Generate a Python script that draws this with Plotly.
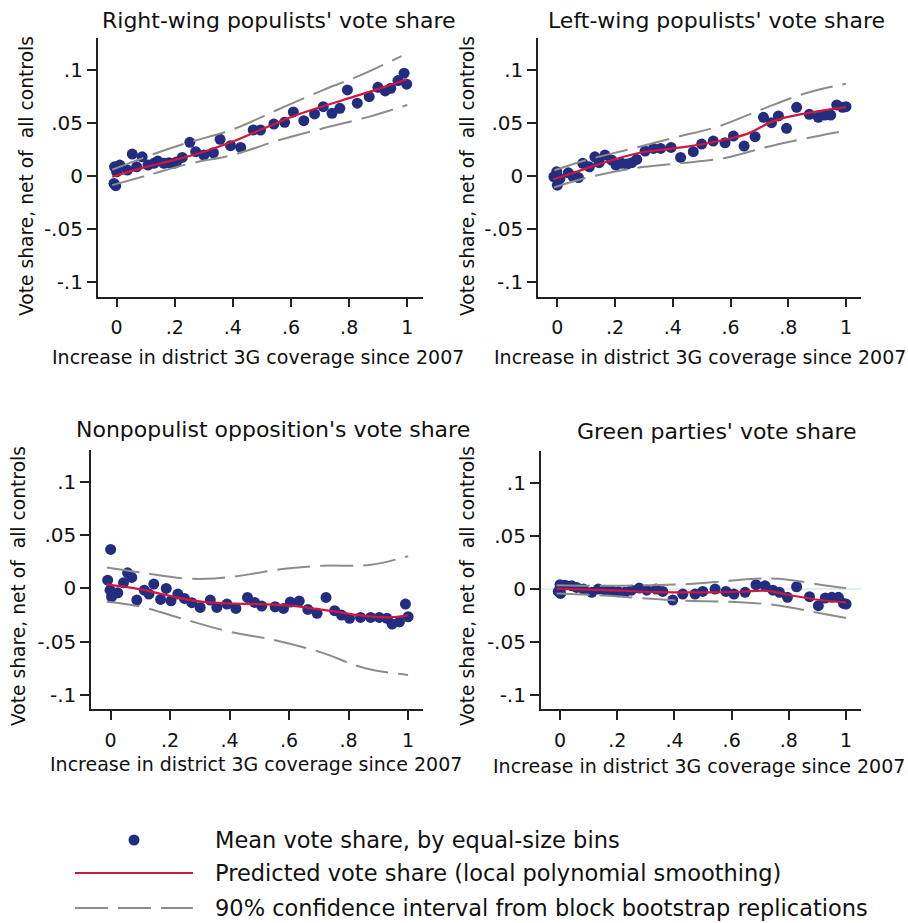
import plotly.graph_objects as go

W, H = 908, 923
FONT = "DejaVu Sans"

# ---------------- data ----------------
# Panel 1: Right-wing populists
rw_bin_x = [-0.009, -0.003, -0.007, 0.011, 0.0, 0.037, 0.054, 0.069, 0.088, 0.108, 0.128, 0.142, 0.163, 0.18,
            0.197, 0.206, 0.226, 0.252, 0.272, 0.30, 0.333, 0.356, 0.392, 0.427, 0.47, 0.495, 0.541, 0.578,
            0.608, 0.644, 0.681, 0.711, 0.741, 0.768, 0.794, 0.828, 0.869, 0.899, 0.924, 0.943, 0.968, 0.989, 0.998]
rw_bin_y = [-0.0069, -0.009, 0.0088, 0.0104, 0.0041, 0.0057, 0.0208, 0.0088, 0.0182, 0.0104, 0.012, 0.0142,
            0.012, 0.0126, 0.012, 0.0132, 0.0176, 0.0318, 0.023, 0.0198, 0.022, 0.0346, 0.0286, 0.027, 0.0434,
            0.0434, 0.049, 0.0506, 0.0604, 0.0522, 0.0585, 0.0654, 0.0591, 0.0638, 0.0811, 0.0686, 0.0748,
            0.0836, 0.0802, 0.0827, 0.0899, 0.0969, 0.0865]
rw_fit_x = [-0.015, 0.094, 0.197, 0.30, 0.404, 0.507, 0.61, 0.713, 0.817, 0.908, 1.0]
rw_fit_y = [-0.0006, 0.0082, 0.0151, 0.023, 0.033, 0.045, 0.0566, 0.066, 0.0748, 0.0827, 0.0912]
rw_up_x = [-0.015, 0.13, 0.24, 0.40, 0.55, 0.71, 0.84, 0.98]
rw_up_y = [0.006, 0.021, 0.031, 0.044, 0.062, 0.081, 0.095, 0.113]
rw_lo_x = [-0.015, 0.10, 0.255, 0.40, 0.56, 0.71, 0.87, 1.0]
rw_lo_y = [-0.0085, 0.0003, 0.012, 0.020, 0.034, 0.045, 0.056, 0.067]

# Panel 2: Left-wing populists
lw_bin_x = [-0.012, -0.002, 0.0, 0.003, 0.009, 0.038, 0.055, 0.073, 0.088, 0.111, 0.130, 0.145, 0.165, 0.188,
            0.203, 0.223, 0.242, 0.258, 0.275, 0.304, 0.333, 0.358, 0.394, 0.427, 0.471, 0.5, 0.540, 0.581,
            0.61, 0.647, 0.685, 0.714, 0.742, 0.766, 0.794, 0.829, 0.873, 0.904, 0.927, 0.947, 0.968, 0.988, 1.0]
lw_bin_y = [-0.0006, 0.0041, -0.0085, -0.0038, -0.0022, 0.0031, -0.0006, -0.0013, 0.012, 0.0088, 0.0182,
            0.0126, 0.0198, 0.0151, 0.0104, 0.012, 0.0113, 0.0126, 0.0157, 0.0236, 0.0261, 0.0261, 0.027,
            0.0176, 0.023, 0.0302, 0.033, 0.0314, 0.0377, 0.0283, 0.0371, 0.0553, 0.0503, 0.0566, 0.045,
            0.0648, 0.0582, 0.0553, 0.0575, 0.0575, 0.067, 0.0648, 0.0654]
lw_fit_x = [-0.014, 0.055, 0.171, 0.286, 0.45, 0.575, 0.66, 0.75, 0.86, 1.0]
lw_fit_y = [-0.003, 0.003, 0.0135, 0.022, 0.0277, 0.034, 0.040, 0.052, 0.059, 0.065]
lw_up_x = [-0.01, 0.10, 0.26, 0.41, 0.56, 0.71, 0.86, 1.0]
lw_up_y = [0.0055, 0.015, 0.026, 0.0365, 0.047, 0.063, 0.078, 0.087]
lw_lo_x = [-0.012, 0.10, 0.26, 0.42, 0.58, 0.73, 0.89, 1.0]
lw_lo_y = [-0.0107, -0.0016, 0.0072, 0.012, 0.017, 0.0277, 0.0371, 0.0428]

# Panel 3: Nonpopulist opposition
np_bin_x = [0.0, -0.010, -0.002, 0.003, 0.009, 0.024, 0.043, 0.057, 0.071, 0.088, 0.113, 0.129, 0.145, 0.168,
            0.187, 0.203, 0.226, 0.248, 0.273, 0.301, 0.335, 0.357, 0.391, 0.421, 0.46, 0.484, 0.508, 0.553,
            0.581, 0.604, 0.634, 0.663, 0.694, 0.724, 0.753, 0.776, 0.803, 0.84, 0.874, 0.903, 0.929, 0.946,
            0.971, 0.991, 1.0]
np_bin_y = [0.0366, 0.0078, -0.0016, -0.0078, -0.0053, -0.0041, 0.0053, 0.0147, 0.0103, -0.0109, -0.0016,
            -0.0053, 0.0041, -0.0103, 0.0, -0.0116, -0.0053, -0.0094, -0.0134, -0.0178, -0.0109, -0.0178,
            -0.0147, -0.0188, -0.0084, -0.0131, -0.0166, -0.0172, -0.0188, -0.0128, -0.0119, -0.0197, -0.0234,
            -0.0084, -0.0209, -0.025, -0.0281, -0.0272, -0.0272, -0.0272, -0.0281, -0.0334, -0.0313, -0.0147,
            -0.0266]
np_fit_x = [-0.013, 0.116, 0.172, 0.284, 0.396, 0.508, 0.621, 0.733, 0.845, 0.935, 1.0]
np_fit_y = [0.0038, -0.0016, -0.0053, -0.0116, -0.0141, -0.0147, -0.0166, -0.0209, -0.0256, -0.0272, -0.0253]
np_up_x = [-0.013, 0.10, 0.25, 0.35, 0.45, 0.57, 0.71, 0.87, 1.0]
np_up_y = [0.0197, 0.015, 0.0094, 0.0094, 0.0125, 0.018, 0.0213, 0.022, 0.0303]
np_lo_x = [-0.013, 0.10, 0.256, 0.40, 0.56, 0.71, 0.856, 1.0]
np_lo_y = [-0.0125, -0.017, -0.0297, -0.0406, -0.0491, -0.0603, -0.075, -0.0813]

# Panel 4: Green parties
gr_bin_x = [-0.006, 0.0, 0.002, 0.017, 0.041, 0.058, 0.082, 0.111, 0.134, 0.157, 0.181, 0.204, 0.227, 0.25,
            0.277, 0.303, 0.336, 0.359, 0.394, 0.429, 0.472, 0.499, 0.542, 0.580, 0.608, 0.647, 0.685, 0.717,
            0.744, 0.767, 0.795, 0.827, 0.872, 0.903, 0.927, 0.95, 0.973, 0.991, 1.0]
gr_bin_y = [-0.0025, 0.0038, -0.0044, 0.0034, 0.0028, 0.0013, -0.0003, -0.0034, -0.0003, -0.0013, -0.0019,
            -0.0028, -0.0034, -0.0013, 0.0006, -0.0013, -0.0003, -0.0025, -0.0106, -0.005, -0.005, -0.0025,
            -0.0003, -0.0025, -0.005, -0.0034, 0.0038, 0.0028, -0.0013, -0.0034, -0.0081, 0.0019, -0.0075,
            -0.0159, -0.0088, -0.0081, -0.0081, -0.0138, -0.0144]
gr_fit_x = [-0.012, 0.163, 0.338, 0.513, 0.629, 0.723, 0.816, 0.909, 1.0]
gr_fit_y = [0.0, -0.0013, -0.0031, -0.0034, -0.0028, -0.0019, -0.0066, -0.0106, -0.0128]
gr_up_x = [-0.012, 0.15, 0.31, 0.45, 0.59, 0.70, 0.79, 0.91, 1.0]
gr_up_y = [0.0034, 0.0028, 0.0034, 0.0044, 0.0075, 0.0097, 0.0088, 0.0038, 0.0006]
gr_lo_x = [-0.012, 0.13, 0.27, 0.43, 0.59, 0.75, 0.91, 1.0]
gr_lo_y = [-0.0044, -0.006, -0.0085, -0.0113, -0.0122, -0.0153, -0.0231, -0.0275]

titles = ["Right-wing populists' vote share", "Left-wing populists' vote share",
          "Nonpopulist opposition's vote share", "Green parties' vote share"]
x_title = "Increase in district 3G coverage since 2007"
y_title = "Vote share, net of  all controls"
x_tickvals = [0, 0.2, 0.4, 0.6, 0.8, 1]
x_ticktext = ["0", ".2", ".4", ".6", ".8", "1"]
y_tickvals = [-0.1, -0.05, 0, 0.05, 0.1]
y_ticktext = ["-.1", "-.05", "0", ".05", ".1"]
legend_labels = ["Mean vote share, by equal-size bins",
                 "Predicted vote share (local polynomial smoothing)",
                 "90% confidence interval from block bootstrap replications"]

panels = [
    (rw_bin_x, rw_bin_y, rw_fit_x, rw_fit_y, rw_up_x, rw_up_y, rw_lo_x, rw_lo_y),
    (lw_bin_x, lw_bin_y, lw_fit_x, lw_fit_y, lw_up_x, lw_up_y, lw_lo_x, lw_lo_y),
    (np_bin_x, np_bin_y, np_fit_x, np_fit_y, np_up_x, np_up_y, np_lo_x, np_lo_y),
    (gr_bin_x, gr_bin_y, gr_fit_x, gr_fit_y, gr_up_x, gr_up_y, gr_lo_x, gr_lo_y),
]

# ---------------- style / layout ----------------
NAVY = "#232d80"
RED = "#d3163c"
GRAY = "#8c8c8c"
AX = "#222222"
TXT = "#111111"
DASH = "33px,10px"

def px(x):
    return x / W

def py(y):
    return 1 - y / H

# pixel boxes of each plot region: (left, right, top, bottom)
boxes = [(97.7, 422.7, 38, 296.7), (538, 861, 38, 296.7),
         (91, 422.7, 450, 709.3), (540.7, 860.7, 450.7, 709.3)]
xranges = [[-0.065, 1.053], [-0.067, 1.052], [-0.066, 1.049], [-0.0675, 1.051]]
YR = [-0.1135, 0.130]

fig = go.Figure()
layout = dict(width=W, height=H, margin=dict(l=0, r=0, t=0, b=0),
              paper_bgcolor="white", plot_bgcolor="white", showlegend=False,
              font=dict(family=FONT, color=TXT))

for i, (bx, by, fx, fy, ux, uy, lx, ly) in enumerate(panels):
    n = "" if i == 0 else str(i + 1)
    xa, ya = "x" + n, "y" + n
    fig.add_trace(go.Scatter(x=bx, y=by, mode="markers", xaxis=xa, yaxis=ya,
                             marker=dict(color=NAVY, size=11, line=dict(width=0))))
    for cx, cy in ((ux, uy), (lx, ly)):
        fig.add_trace(go.Scatter(x=cx, y=cy, mode="lines", xaxis=xa, yaxis=ya,
                                 line=dict(color=GRAY, width=2, dash=DASH, shape="spline", smoothing=1.0)))
    fig.add_trace(go.Scatter(x=fx, y=fy, mode="lines", xaxis=xa, yaxis=ya,
                             line=dict(color=RED, width=2.2, shape="spline", smoothing=1.0)))
    l, r, t, b = boxes[i]
    layout["xaxis" + n] = dict(domain=[px(l), px(r)], range=xranges[i], anchor=ya,
                               tickvals=x_tickvals, ticktext=x_ticktext, ticks="outside",
                               ticklen=9, tickwidth=1.5, tickcolor=AX, showline=True, linecolor=AX,
                               linewidth=1.5, showgrid=False, zeroline=False,
                               tickfont=dict(size=19, family=FONT, color=TXT), ticklabelstandoff=4)
    layout["yaxis" + n] = dict(domain=[py(b), py(t)], range=YR, anchor=xa,
                               tickvals=y_tickvals, ticktext=y_ticktext, ticks="outside",
                               ticklen=9, tickwidth=1.5, tickcolor=AX, showline=True, linecolor=AX,
                               linewidth=1.5, showgrid=False, zeroline=(i == 3), zerolinecolor="#e2eef0",
                               zerolinewidth=1.5,
                               tickfont=dict(size=20, family=FONT, color=TXT))

fig.update_layout(**layout)

annotations = []
title_pos = [(278.5, 20), (716, 20), (273, 430), (716.5, 432)]
for (tx, ty), txt in zip(title_pos, titles):
    annotations.append(dict(text=txt, x=px(tx), y=py(ty), xref="paper", yref="paper",
                            xanchor="center", yanchor="middle", showarrow=False,
                            font=dict(size=22, family=FONT, color=TXT)))
xt_pos = [(258, 357), (700, 357), (256, 764), (699, 766)]
for (tx, ty) in xt_pos:
    annotations.append(dict(text=x_title, x=px(tx), y=py(ty), xref="paper", yref="paper",
                            xanchor="center", yanchor="middle", showarrow=False,
                            font=dict(size=19, family=FONT, color=TXT)))
yt_pos = [(26, 176), (467, 176), (18, 586), (467, 586)]
for (tx, ty) in yt_pos:
    annotations.append(dict(text=y_title, x=px(tx), y=py(ty), xref="paper", yref="paper",
                            xanchor="center", yanchor="middle", showarrow=False, textangle=-90,
                            font=dict(size=18.7, family=FONT, color=TXT)))

# legend (drawn manually at the bottom)
leg_rows = [840, 873, 908]
for yy, txt in zip(leg_rows, legend_labels):
    annotations.append(dict(text=txt, x=px(213), y=py(yy), xref="paper", yref="paper",
                            xanchor="left", yanchor="middle", showarrow=False,
                            font=dict(size=22.5, family=FONT, color=TXT)))
shapes = [
    dict(type="circle", xref="paper", yref="paper", x0=px(128.5), x1=px(139.5),
         y0=py(845.5), y1=py(834.5), fillcolor=NAVY, line=dict(width=0)),
    dict(type="line", xref="paper", yref="paper", x0=px(75), x1=px(193), y0=py(873), y1=py(873),
         line=dict(color=RED, width=2.2)),
    dict(type="line", xref="paper", yref="paper", x0=px(75), x1=px(193), y0=py(908), y1=py(908),
         line=dict(color=GRAY, width=2, dash=DASH)),
]
fig.update_layout(annotations=annotations, shapes=shapes)

fig.write_html("out.html", config={"displayModeBar": False},
               post_script="document.body.style.margin='0';")
